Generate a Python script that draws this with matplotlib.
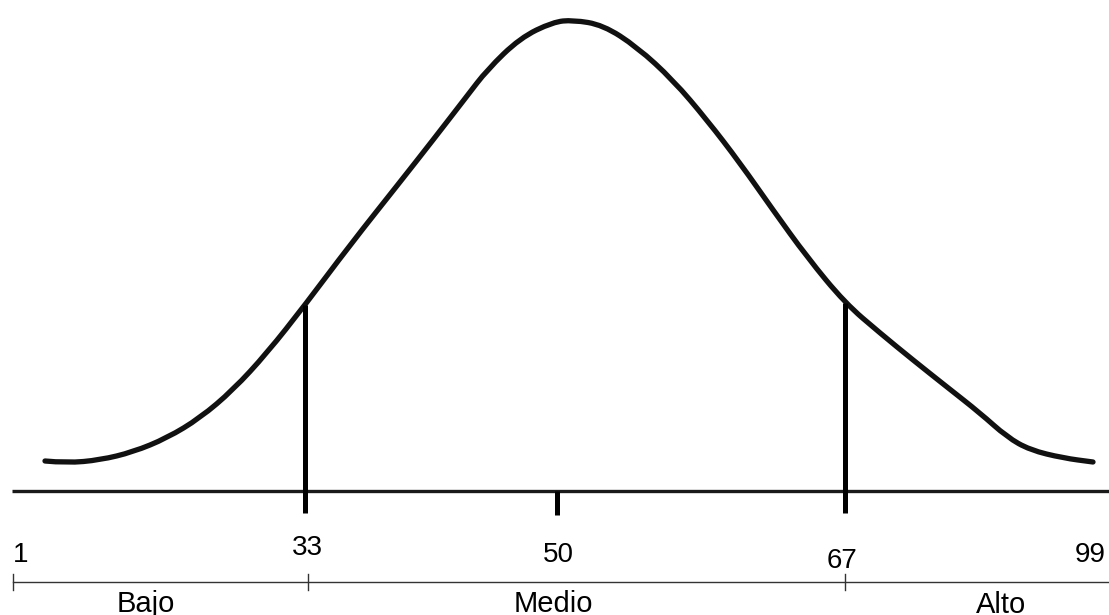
import matplotlib
matplotlib.use("Agg")
import matplotlib.pyplot as plt
from matplotlib.path import Path
from matplotlib.patches import PathPatch

# --- data (x = horizontal position, y = height above baseline) ---
curve_x = [45, 67, 100, 133, 167, 200, 233, 267, 305, 350, 400, 433, 467, 487, 520,
           553, 573, 603, 637, 673, 707, 740, 773, 807, 845, 880, 913, 947, 980,
           1007, 1030, 1063, 1093]
curve_y = [30, 28, 31, 39, 53, 73, 101, 138, 186, 246, 309, 351, 395, 421, 453,
           469, 471, 466, 444, 411, 371, 328, 281, 234, 188, 158, 131, 104, 78,
           54, 41, 33, 29]

cut_x = [305, 845]          # percentile 33 and 67 cut lines
cut_h = [186, 188]
mid_x = 557                 # percentile 50 tick

pct_labels = ["1", "33", "50", "67", "99"]
pct_x = [21, 307, 558, 842, 1090]
pct_y = [-71, -64, -71, -77, -71]

seg_ticks = [13, 308, 845]
seg_labels = ["Bajo", "Medio", "Alto"]
seg_x = [146, 553, 1001]
seg_y = [-121, -121, -122]

W, H = 1109, 615
fig = plt.figure(figsize=(W / 100, H / 100), dpi=100)
ax = fig.add_axes([0, 0, 1, 1])
ax.set_xlim(0, W)
ax.set_ylim(491 - H, 491)
ax.axis("off")

# smooth bell curve through the read points (quadratic B-spline via Path)
pts = list(zip(curve_x, curve_y))
verts = [pts[0]]
codes = [Path.MOVETO]
for i in range(1, len(pts) - 1):
    mx = (pts[i][0] + pts[i + 1][0]) / 2
    my = (pts[i][1] + pts[i + 1][1]) / 2
    verts += [pts[i], (mx, my)]
    codes += [Path.CURVE3, Path.CURVE3]
verts.append(pts[-1])
codes.append(Path.LINETO)
ax.add_patch(PathPatch(Path(verts, codes), facecolor="none", edgecolor="#111111",
                       lw=3.8, capstyle="round", joinstyle="round"))

# baseline
ax.plot([12, W], [0, 0], color="#1a1a1a", lw=2.4, solid_capstyle="butt")

# cut lines
for x, h in zip(cut_x, cut_h):
    ax.plot([x, x], [-22, h], color="black", lw=3.6, solid_capstyle="butt")
# middle tick
ax.plot([mid_x, mid_x], [0, -24], color="black", lw=3.6, solid_capstyle="butt")

# percentile labels
for s, x, y in zip(pct_labels, pct_x, pct_y):
    ax.text(x, y, s, ha="center", va="baseline", fontsize=20,
            family="Liberation Sans", color="black")

# lower segment line
ax.plot([13, W], [-91, -91], color="#333333", lw=1.0)
for x in seg_ticks:
    ax.plot([x, x], [-83, -99], color="#333333", lw=1.0)
for s, x, y in zip(seg_labels, seg_x, seg_y):
    ax.text(x, y, s, ha="center", va="baseline", fontsize=21,
            family="Liberation Sans", color="black")

fig.savefig("out.png", dpi=100, facecolor="white")
